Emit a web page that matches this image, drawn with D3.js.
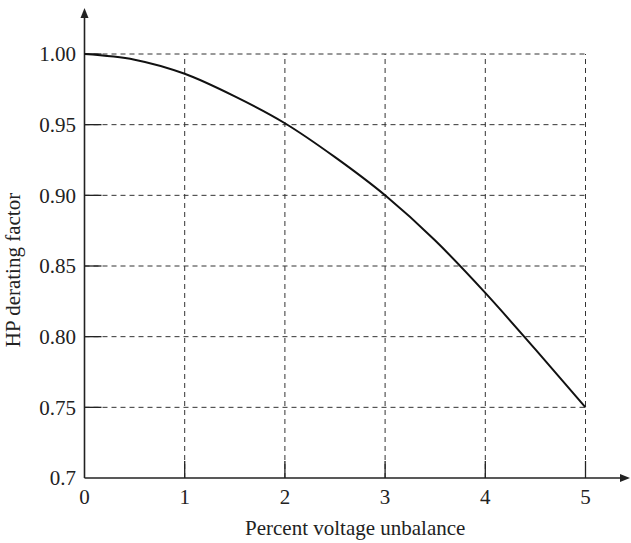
<!DOCTYPE html>
<html><head><meta charset="utf-8">
<script src="https://cdn.jsdelivr.net/npm/d3@7"></script>
<style>body{margin:0;background:#fff}</style>
</head><body>
<svg id="c" width="631" height="543"></svg>
<script>
const xValues = [0, 0.5, 1, 1.5, 2, 2.5, 3, 3.5, 4, 4.5, 5];
const yValues = [1.0, 0.996, 0.986, 0.970, 0.951, 0.927, 0.900, 0.868, 0.831, 0.791, 0.75];
const xTicks = [0, 1, 2, 3, 4, 5];
const yTicks = [0.7, 0.75, 0.80, 0.85, 0.90, 0.95, 1.00];
const yTickLabels = ["0.7", "0.75", "0.80", "0.85", "0.90", "0.95", "1.00"];
const xTitle = "Percent voltage unbalance";
const yTitle = "HP derating factor";

const svg = d3.select("#c");
const font = "'Liberation Serif', 'DejaVu Serif', serif";
const x = d3.scaleLinear().domain([0, 5]).range([84.5, 585.5]);
const y = d3.scaleLinear().domain([0.7, 1.0]).range([478, 54]);
const ink = "#222";

// grid
const g = svg.append("g");
g.selectAll(".hg").data(yTicks.slice(1)).enter().append("line")
  .attr("x1", x(0)).attr("x2", x(5)).attr("y1", d => y(d)).attr("y2", d => y(d))
  .attr("stroke", "#333").attr("stroke-width", 1).attr("stroke-dasharray", "5,4");
g.selectAll(".vg").data(xTicks.slice(1)).enter().append("line")
  .attr("x1", d => x(d)).attr("x2", d => x(d)).attr("y1", y(0.7)).attr("y2", y(1.0))
  .attr("stroke", "#333").attr("stroke-width", 1).attr("stroke-dasharray", "5,4");

// inward ticks
g.selectAll(".yt").data(yTicks.slice(1)).enter().append("line")
  .attr("x1", x(0)).attr("x2", x(0) + 17).attr("y1", d => y(d)).attr("y2", d => y(d))
  .attr("stroke", ink).attr("stroke-width", 1.3);
g.selectAll(".xt").data(xTicks.slice(1)).enter().append("line")
  .attr("x1", d => x(d)).attr("x2", d => x(d)).attr("y1", y(0.7)).attr("y2", y(0.7) - 17)
  .attr("stroke", ink).attr("stroke-width", 1.3);

// axes with arrows
svg.append("line").attr("x1", x(0)).attr("x2", x(0)).attr("y1", y(0.7)).attr("y2", 16)
  .attr("stroke", ink).attr("stroke-width", 1.6);
svg.append("path").attr("d", `M${x(0)},8 L${x(0)-4},18 L${x(0)+4},18 Z`).attr("fill", ink);
svg.append("line").attr("x1", x(0)).attr("x2", 622).attr("y1", y(0.7)).attr("y2", y(0.7))
  .attr("stroke", ink).attr("stroke-width", 1.6);
svg.append("path").attr("d", `M630,${y(0.7)} L620,${y(0.7)-4} L620,${y(0.7)+4} Z`).attr("fill", ink);

// tick labels
svg.selectAll(".yl").data(yTicks).enter().append("text")
  .attr("x", 76).attr("y", d => y(d)).attr("dy", "0.35em").attr("text-anchor", "end")
  .attr("font-family", font).attr("font-size", 21).attr("fill", ink)
  .text((d, i) => yTickLabels[i]);
svg.selectAll(".xl").data(xTicks).enter().append("text")
  .attr("x", d => x(d)).attr("y", 504).attr("text-anchor", "middle")
  .attr("font-family", font).attr("font-size", 21).attr("fill", ink)
  .text(d => d);

// titles
svg.append("text").attr("x", 245).attr("y", 535).attr("text-anchor", "start")
  .attr("font-family", font).attr("font-size", 21).attr("fill", ink).text(xTitle);
svg.append("text").attr("transform", "translate(20,270) rotate(-90)").attr("text-anchor", "middle")
  .attr("font-family", font).attr("font-size", 21).attr("fill", ink).text(yTitle);

// curve
const line = d3.line().x((d, i) => x(xValues[i])).y(d => y(d)).curve(d3.curveMonotoneX);
svg.append("path").datum(yValues).attr("d", line)
  .attr("fill", "none").attr("stroke", "#111").attr("stroke-width", 2);
</script>
</body></html>
